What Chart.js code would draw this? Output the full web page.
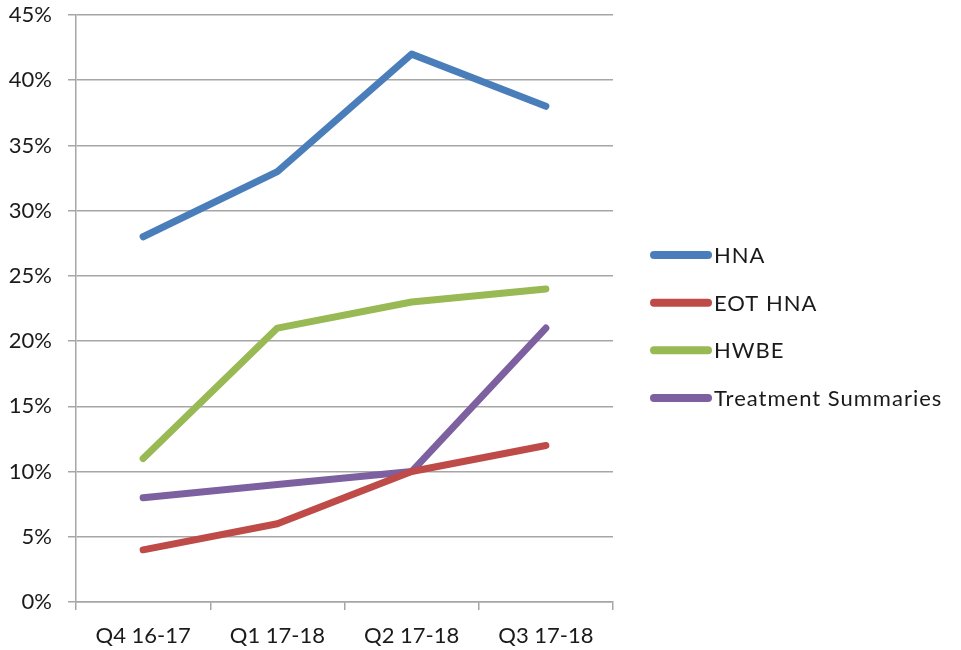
<!DOCTYPE html>
<html><head><meta charset="utf-8">
<script src="https://cdn.jsdelivr.net/npm/chart.js@4"></script>
<style>html,body{margin:0;padding:0;background:#fff}#wrap{width:961px;height:650px}</style>
</head><body><div id="wrap"><canvas id="c" width="961" height="650"></canvas></div>
<script>
const categories = ["Q4 16-17", "Q1 17-18", "Q2 17-18", "Q3 17-18"];
const hna = [28, 33, 42, 38];
const eotHna = [4, 6, 10, 12];
const hwbe = [11, 21, 23, 24];
const treatmentSummaries = [8, 9, 10, 21];
const seriesNames = ["HNA", "EOT HNA", "HWBE", "Treatment Summaries"];
const colors = ["#4A7EBB", "#BE4B48", "#98B954", "#7D60A0"];
const yMax = 45, yStep = 5;

const fontFamily = "Lato, 'Open Sans', sans-serif";
const font = {family: fontFamily, size: 22};
const textColor = '#1a1a1a';
const ds = [hna, eotHna, hwbe, treatmentSummaries].map((d, i) => ({
  label: seriesNames[i], data: d, borderColor: colors[i], backgroundColor: colors[i],
  borderWidth: 7, pointRadius: 0, pointHoverRadius: 0, tension: 0,
  borderCapStyle: 'round', borderJoinStyle: 'round', fill: false
}));

// Right-side legend drawn from the chart's own datasets
const sideLegend = {
  id: 'sideLegend',
  afterDraw(chart) {
    const ctx = chart.ctx;
    const sets = chart.data.datasets;
    const gap = 47.7;
    const cy = chart.height / 2 + 1.5;
    const y0 = cy - gap * (sets.length - 1) / 2;
    const x0 = chart.chartArea.right + 41;
    ctx.save();
    ctx.font = `22px ${fontFamily}`;
    ctx.textBaseline = 'middle';
    ctx.textAlign = 'left';
    if ('letterSpacing' in ctx) ctx.letterSpacing = '1px';
    sets.forEach((d, i) => {
      const y = y0 + i * gap;
      ctx.strokeStyle = d.borderColor;
      ctx.lineWidth = 8;
      ctx.lineCap = 'round';
      ctx.beginPath();
      ctx.moveTo(x0, y);
      ctx.lineTo(x0 + 54, y);
      ctx.stroke();
      ctx.fillStyle = textColor;
      ctx.fillText(d.label, x0 + 60, y + 1);
    });
    ctx.restore();
  }
};

new Chart(document.getElementById('c'), {
  type: 'line',
  data: {labels: categories, datasets: ds},
  plugins: [sideLegend],
  options: {
    responsive: false, animation: false, devicePixelRatio: 1,
    layout: {padding: {top: 15, right: 348, bottom: 0, left: 0}},
    plugins: {
      tooltip: {enabled: false},
      legend: {display: false}
    },
    scales: {
      x: {
        offset: true,
        afterFit: s => { s.height = 48; s.paddingLeft = 0; s.paddingRight = 0; },
        grid: {offset: true, drawOnChartArea: false, drawTicks: true, tickLength: 8, color: '#A6A6A6', lineWidth: 1.5},
        border: {color: '#A6A6A6', width: 1.5},
        ticks: {font: font, color: textColor, padding: 13, maxRotation: 0}
      },
      y: {
        min: 0, max: yMax,
        afterFit: s => { s.width = 76; s.paddingTop = 0; s.paddingBottom = 0; },
        grid: {color: '#A6A6A6', lineWidth: 1.5, tickLength: 8},
        border: {color: '#A6A6A6', width: 1.5},
        ticks: {stepSize: yStep, font: font, color: textColor, padding: 16, callback: v => v + '%'}
      }
    }
  }
});
</script></body></html>
